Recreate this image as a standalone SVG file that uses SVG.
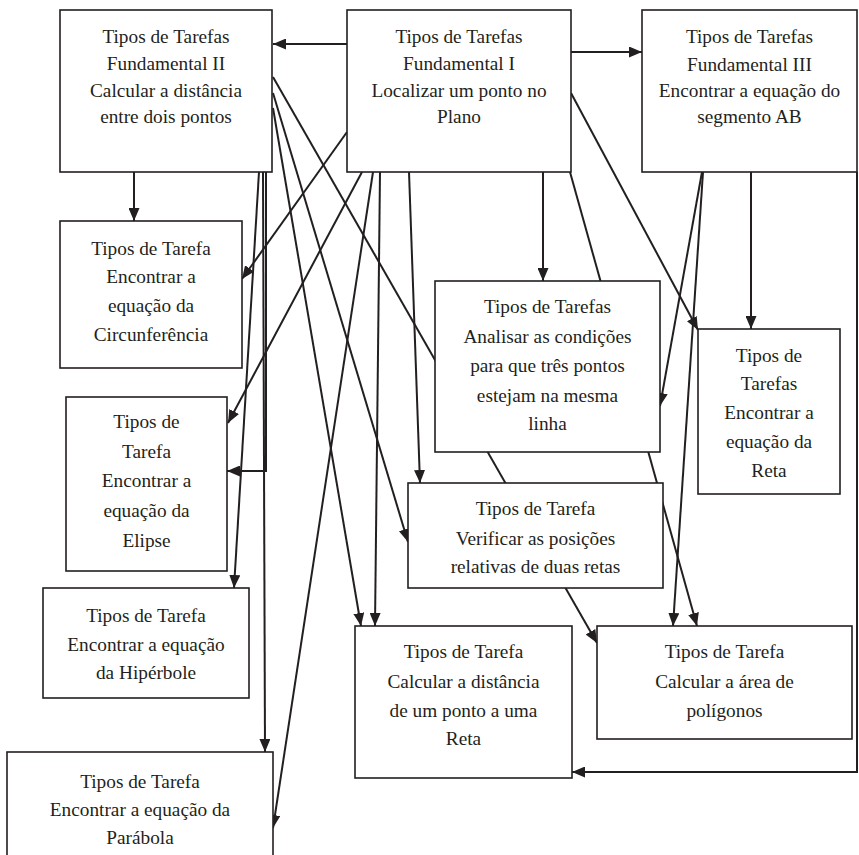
<svg xmlns="http://www.w3.org/2000/svg" width="859" height="855" viewBox="0 0 859 855">
<defs>
<marker id="arr" markerUnits="userSpaceOnUse" markerWidth="13" markerHeight="11" refX="13" refY="5.5" orient="auto">
<path d="M0,0 L13,5.5 L0,11 z" fill="#231f20"/>
</marker>
<style>
.c{fill:none;stroke:#231f20;stroke-width:2;marker-end:url(#arr)}
.b{fill:#fff;stroke:#231f20;stroke-width:1.6}
text{font-family:"Liberation Serif","DejaVu Serif",serif;font-size:19.3px;fill:#231f20;text-anchor:middle}
</style>
</defs>
<rect width="859" height="855" fill="#fff"/>
<g id="connectors">
<path class="c" d="M347,44 L273,44"/>
<path class="c" d="M571,52 L642,52"/>
<path class="c" d="M543,172 L543,281"/>
<path class="c" d="M347,132 L242,279"/>
<path class="c" d="M362,172 L228,423"/>
<path class="c" d="M373,172 L273,828"/>
<path class="c" d="M380,172 L375,626"/>
<path class="c" d="M409,172 L420,483"/>
<path class="c" d="M571,93 L698,330"/>
<path class="c" d="M570,172 L697,626"/>
<path class="c" d="M134,172 L134,221"/>
<path class="c" d="M273,77 L597,643"/>
<path class="c" d="M273,93 L408,542"/>
<path class="c" d="M273,108 L361,626"/>
<path class="c" d="M259,172 L234,588"/>
<path class="c" d="M263,172 L265,752"/>
<path class="c" d="M266,172 L266,471 L227,471"/>
<path class="c" d="M702,172 L660,406"/>
<path class="c" d="M703,172 L673,626"/>
<path class="c" d="M751,172 L751,329"/>
<path class="c" d="M857,172 L857,772 L572,772"/>
</g>
<g id="fund2"><rect class="b" x="60" y="10" width="212" height="162"/>
<text x="166" y="43">Tipos de Tarefas</text><text x="166" y="70">Fundamental II</text><text x="166" y="97">Calcular a distância</text><text x="166" y="123">entre dois pontos</text></g>
<g id="fund1"><rect class="b" x="347" y="10" width="224" height="162"/>
<text x="459" y="43">Tipos de Tarefas</text><text x="459" y="70">Fundamental I</text><text x="459" y="97">Localizar um ponto no</text><text x="459" y="123">Plano</text></g>
<g id="fund3"><rect class="b" x="642" y="10" width="215" height="162"/>
<text x="749.5" y="43">Tipos de Tarefas</text><text x="749.5" y="71">Fundamental III</text><text x="749.5" y="97">Encontrar a equação do</text><text x="749.5" y="123">segmento AB</text></g>
<g id="circunferencia"><rect class="b" x="60" y="221" width="182" height="147"/>
<text x="151" y="255">Tipos de Tarefa</text><text x="151" y="283">Encontrar a</text><text x="151" y="312">equação da</text><text x="151" y="341">Circunferência</text></g>
<g id="elipse"><rect class="b" x="66" y="397" width="161" height="174"/>
<text x="146.5" y="428">Tipos de</text><text x="146.5" y="458">Tarefa</text><text x="146.5" y="487">Encontrar a</text><text x="146.5" y="517">equação da</text><text x="146.5" y="547">Elipse</text></g>
<g id="hiperbole"><rect class="b" x="43" y="588" width="206" height="110"/>
<text x="146" y="622">Tipos de Tarefa</text><text x="146" y="651">Encontrar a equação</text><text x="146" y="679">da Hipérbole</text></g>
<g id="parabola"><rect class="b" x="7" y="752" width="266" height="110"/>
<text x="140" y="788">Tipos de Tarefa</text><text x="140" y="816">Encontrar a equação da</text><text x="140" y="844">Parábola</text></g>
<g id="analisar"><rect class="b" x="435" y="281" width="225" height="171"/>
<text x="547.5" y="313">Tipos de Tarefas</text><text x="547.5" y="343">Analisar as condições</text><text x="547.5" y="372">para que três pontos</text><text x="547.5" y="402">estejam na mesma</text><text x="547.5" y="430">linha</text></g>
<g id="reta"><rect class="b" x="698" y="329" width="142" height="165"/>
<text x="769" y="362">Tipos de</text><text x="769" y="390">Tarefas</text><text x="769" y="419">Encontrar a</text><text x="769" y="448">equação da</text><text x="769" y="477">Reta</text></g>
<g id="verificar"><rect class="b" x="408" y="483" width="255" height="105"/>
<text x="535.5" y="515">Tipos de Tarefa</text><text x="535.5" y="545">Verificar as posições</text><text x="535.5" y="573">relativas de duas retas</text></g>
<g id="distancia"><rect class="b" x="355" y="626" width="217" height="152"/>
<text x="463.5" y="658">Tipos de Tarefa</text><text x="463.5" y="688">Calcular a distância</text><text x="463.5" y="717">de um ponto a uma</text><text x="463.5" y="745">Reta</text></g>
<g id="area"><rect class="b" x="597" y="626" width="255" height="113"/>
<text x="724.5" y="658">Tipos de Tarefa</text><text x="724.5" y="688">Calcular a área de</text><text x="724.5" y="717">polígonos</text></g>
</svg>
